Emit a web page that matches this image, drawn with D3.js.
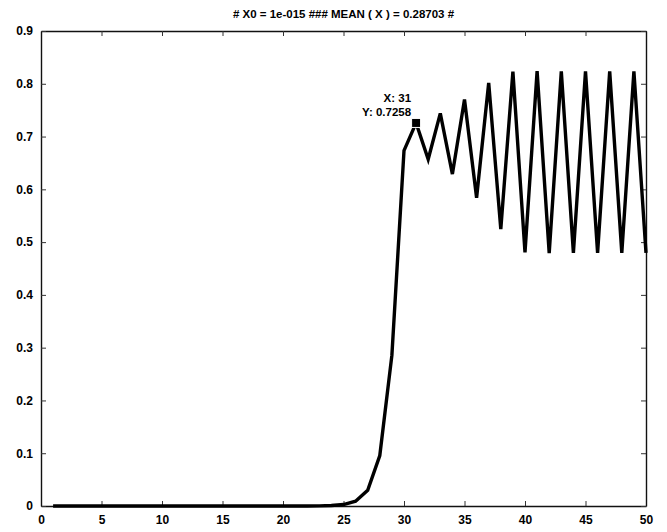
<!DOCTYPE html>
<html>
<head>
<meta charset="utf-8">
<script src="https://cdn.jsdelivr.net/npm/d3@7"></script>
<style>
  body { margin: 0; background: #fff; }
  svg { font-family: "Liberation Sans", Arial, sans-serif; }
</style>
</head>
<body>
<div id="chart"></div>
<script>
// values (iteration index 1..50)
const steps = d3.range(1, 51);
const values = [
  0, 0, 0, 0, 0, 0, 0, 0, 0, 0,
  0, 0, 0, 0, 0, 0, 0, 0, 0, 0,
  0.00002, 0.00008, 0.00026, 0.00084, 0.0028, 0.0091, 0.0299, 0.0957, 0.2857, 0.6734,
  0.7258, 0.6569, 0.7438, 0.6289, 0.7702, 0.5840, 0.8017, 0.5246, 0.8230, 0.4807,
  0.8238, 0.4791, 0.8236, 0.4795, 0.8236, 0.4794, 0.8236, 0.4794, 0.8236, 0.4794
];
const xTicks = [0, 5, 10, 15, 20, 25, 30, 35, 40, 45, 50];
const yTicks = [0, 0.1, 0.2, 0.3, 0.4, 0.5, 0.6, 0.7, 0.8, 0.9];
const titleText = '# X0 = 1e-015 ### MEAN ( X ) = 0.28703 #';
const tip = { x: 31, y: 0.7258 };

const width = 667, height = 532;
const margin = { top: 31, right: 21, bottom: 26, left: 41 };

const svg = d3.select('#chart').append('svg')
  .attr('width', width)
  .attr('height', height);

const x = d3.scaleLinear().domain([0, 50]).range([margin.left, width - margin.right]);
const y = d3.scaleLinear().domain([0, 0.9]).range([height - margin.bottom, margin.top]);

// axes with inward ticks on all four sides
const tickLen = 5;
svg.append('g')
  .attr('transform', `translate(0,${y(0)})`)
  .call(d3.axisBottom(x).tickValues(xTicks).tickSizeInner(-tickLen).tickSizeOuter(0).tickPadding(9).tickFormat(d3.format('d')));
svg.append('g')
  .attr('transform', `translate(0,${y(0.9)})`)
  .call(d3.axisTop(x).tickValues(xTicks).tickSizeInner(-tickLen).tickSizeOuter(0).tickFormat(''));
svg.append('g')
  .attr('transform', `translate(${x(0)},0)`)
  .call(d3.axisLeft(y).tickValues(yTicks).tickSizeInner(-tickLen).tickSizeOuter(0).tickPadding(8).tickFormat(d => d === 0 ? '0' : d3.format('.1f')(d)));
svg.append('g')
  .attr('transform', `translate(${x(50)},0)`)
  .call(d3.axisRight(y).tickValues(yTicks).tickSizeInner(-tickLen).tickSizeOuter(0).tickFormat(''));

svg.selectAll('.domain').attr('stroke', '#111').attr('stroke-width', 1.4);
svg.selectAll('.tick line').attr('stroke', '#333');
svg.selectAll('.tick text')
  .attr('fill', '#000')
  .style('font-size', '12px')
  .style('font-weight', 'bold');

// series
const line = d3.line()
  .x((d, i) => x(steps[i]))
  .y(d => y(d));
svg.append('path')
  .datum(values)
  .attr('fill', 'none')
  .attr('stroke', '#000')
  .attr('stroke-width', 3.4)
  .attr('stroke-linejoin', 'miter')
  .attr('d', line);

// data tip
svg.append('rect')
  .attr('x', x(tip.x) - 4.5)
  .attr('y', y(tip.y) - 4.5)
  .attr('width', 9)
  .attr('height', 9)
  .attr('fill', '#000')
  .attr('stroke', '#fff')
  .attr('stroke-width', 1);
const tipText = svg.append('text')
  .attr('text-anchor', 'end')
  .style('font-size', '11.5px')
  .style('font-weight', 'bold');
tipText.append('tspan')
  .attr('x', x(tip.x) - 5)
  .attr('y', y(tip.y) - 21)
  .text('X: ' + tip.x);
tipText.append('tspan')
  .attr('x', x(tip.x) - 5)
  .attr('y', y(tip.y) - 7)
  .text('Y: ' + tip.y);

// title
svg.append('text')
  .attr('x', (x(0) + x(50)) / 2)
  .attr('y', 18)
  .attr('text-anchor', 'middle')
  .style('font-size', '11.5px')
  .style('font-weight', 'bold')
  .text(titleText);
</script>
</body>
</html>
